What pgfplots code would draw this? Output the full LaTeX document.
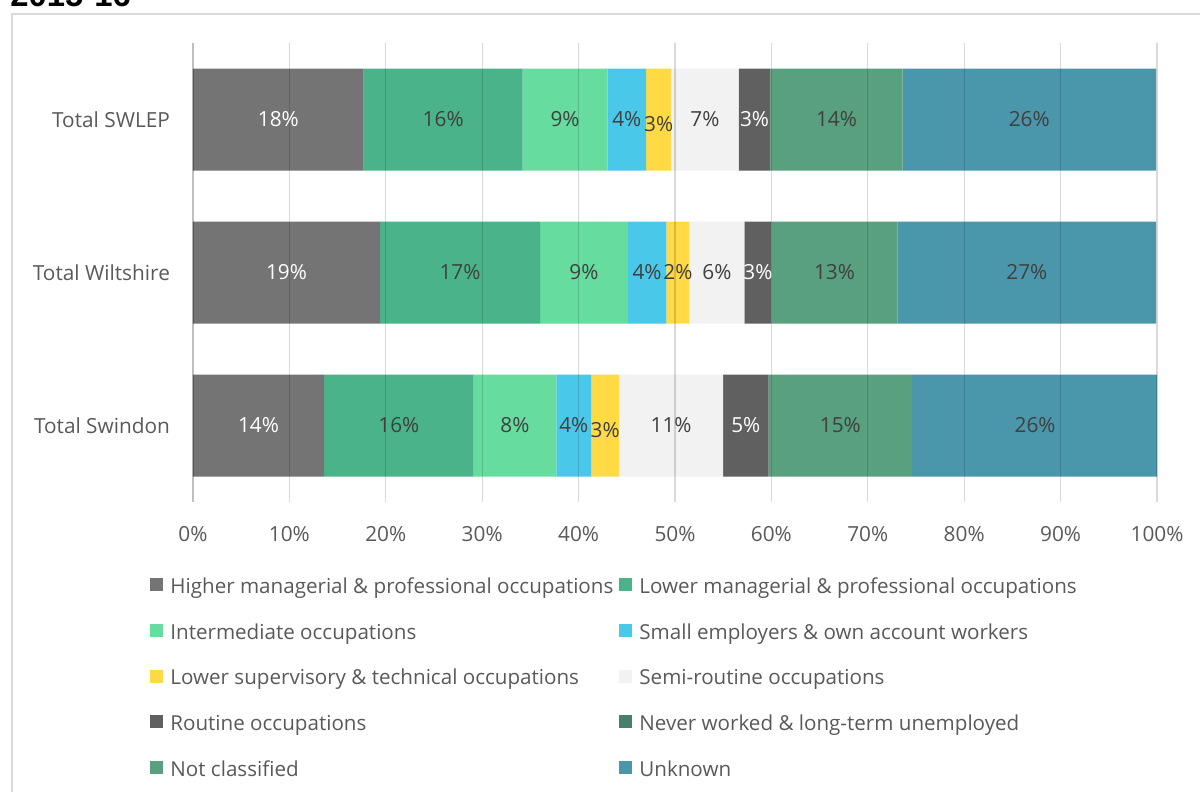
\documentclass[border=0pt]{standalone}
\usepackage{pgfplots}
\pgfplotsset{compat=1.18}
\usepackage{fontspec}
\setmainfont{Open Sans}
\newfontfamily\titlefont{Liberation Sans}
\definecolor{txt}{HTML}{595959}
\definecolor{lbl}{HTML}{404040}
\definecolor{frame}{HTML}{D9D9D9}
\definecolor{cA}{HTML}{747474}
\definecolor{cB}{HTML}{4BB389}
\definecolor{cC}{HTML}{66DC9F}
\definecolor{cD}{HTML}{4AC8EA}
\definecolor{cE}{HTML}{FFDA45}
\definecolor{cF}{HTML}{F2F2F2}
\definecolor{cG}{HTML}{606060}
\definecolor{cH}{HTML}{44806C}
\definecolor{cI}{HTML}{58A07E}
\definecolor{cJ}{HTML}{4A96AB}
\newcommand\fs{\fontsize{10.4}{12.5}\selectfont}
\newcommand\fl{\fontsize{10.3}{12.5}\selectfont}
\begin{document}
\begin{tikzpicture}
\useasboundingbox (0,0) rectangle (600pt,-396pt);
\draw[color=frame, line width=0.8pt] (6pt,-7pt) rectangle (612pt,-410pt);
\node[anchor=base west, font=\titlefont\bfseries\fontsize{16.4}{18}\selectfont, inner sep=0pt] at (5pt,-3.5pt) {2015-16};
\begin{axis}[
  at={(96.5pt,-251pt)}, anchor=south west,
  scale only axis, width=482pt, height=229.5pt,
  xbar stacked, bar width=51pt,
  xmin=0, xmax=100, ymin=-0.5, ymax=2.5,
  xtick={0,10,...,100}, ytick={0,1,2},
  yticklabels={Total Swindon, Total Wiltshire, Total SWLEP},
  xticklabel={\pgfmathprintnumber{\tick}\%},
  /pgf/number format/assume math mode=true,
  major tick length=0pt,
  axis line style={draw=none},
  xmajorgrids, grid style={black, opacity=0.15, line width=0.55pt},
  extra x ticks={0}, extra x tick labels={},
  extra x tick style={grid style={black, opacity=0.12, line width=0.8pt}},
  axis on top,
  tick label style={font=\fs, text=txt},
  xticklabel style={anchor=base, yshift=-19.5pt},
  yticklabel style={anchor=east, xshift=-8pt},
  legend columns=2,
  legend cell align=left,
  legend style={draw=none, fill=none, at={(-0.0446,-0.1656)}, anchor=north west,
    font=\fl, text=txt, inner sep=0pt, row sep=12.5pt,
    nodes={inner sep=0pt, text height=7.3pt, text depth=2.7pt},
    /tikz/every odd column/.append style={column sep=3.5pt},
    /tikz/every even column/.append style={column sep=3pt}},
  legend image code/.code={\fill[#1] (0pt,-1.2pt) rectangle (6.5pt,5.3pt);},
]
\addplot[fill=cA, draw=none] coordinates {(13.6,0) (19.4,1) (17.7,2)};
\addlegendentry{Higher managerial \& professional occupations}
\addplot[fill=cB, draw=none] coordinates {(15.5,0) (16.6,1) (16.5,2)};
\addlegendentry{Lower managerial \& professional occupations}
\addplot[fill=cC, draw=none] coordinates {(8.6,0) (9.1,1) (8.8,2)};
\addlegendentry{Intermediate occupations}
\addplot[fill=cD, draw=none] coordinates {(3.6,0) (4.0,1) (4.0,2)};
\addlegendentry{Small employers \& own account workers}
\addplot[fill=cE, draw=none] coordinates {(2.9,0) (2.4,1) (2.6,2)};
\addlegendentry{Lower supervisory \& technical occupations}
\addplot[fill=cF, draw=none] coordinates {(10.8,0) (5.7,1) (7.0,2)};
\addlegendentry{Semi-routine occupations}
\addplot[fill=cG, draw=none] coordinates {(4.7,0) (2.8,1) (3.3,2)};
\addlegendentry{Routine occupations}
\addplot[fill=cH, draw=none] coordinates {(0,0) (0,1) (0,2)};
\addlegendentry{Never worked \& long-term unemployed}
\addplot[fill=cI, draw=none] coordinates {(14.9,0) (13.1,1) (13.7,2)};
\addlegendentry{Not classified}
\addplot[fill=cJ, draw=none] coordinates {(25.5,0) (26.8,1) (26.3,2)};
\addlegendentry{Unknown}
\end{axis}
\begin{axis}[
  at={(96.5pt,-251pt)}, anchor=south west,
  scale only axis, width=482pt, height=229.5pt,
  xmin=0, xmax=100, ymin=-0.5, ymax=2.5,
  hide axis, clip=false,
  /pgf/number format/assume math mode=true,
]
\addplot[draw=none, mark=none, point meta=explicit,
  nodes near coords={\pgfmathprintnumber{\pgfplotspointmeta}\%},
  every node near coord/.style={anchor=center, text=white, font=\fs}]
  table[meta=m] {
x y m
8.85 2 18
9.7 1 19
6.8 0 14
58.25 2 3
58.6 1 3
57.35 0 5
};
\addplot[draw=none, mark=none, point meta=explicit,
  nodes near coords={\pgfmathprintnumber{\pgfplotspointmeta}\%},
  every node near coord/.style={anchor=center, text=lbl, font=\fs}]
  table[meta=m] {
x y m
25.95 2 16
38.6 2 9
45.0 2 4
48.3 1.97 3
53.1 2 7
66.75 2 14
86.75 2 26
27.7 1 17
40.55 1 9
47.1 1 4
50.3 1 2
54.35 1 6
66.55 1 13
86.5 1 27
21.35 0 16
33.4 0 8
39.5 0 4
42.75 -0.03 3
49.6 0 11
67.15 0 15
87.35 0 26
};
\end{axis}
\end{tikzpicture}
\end{document}
